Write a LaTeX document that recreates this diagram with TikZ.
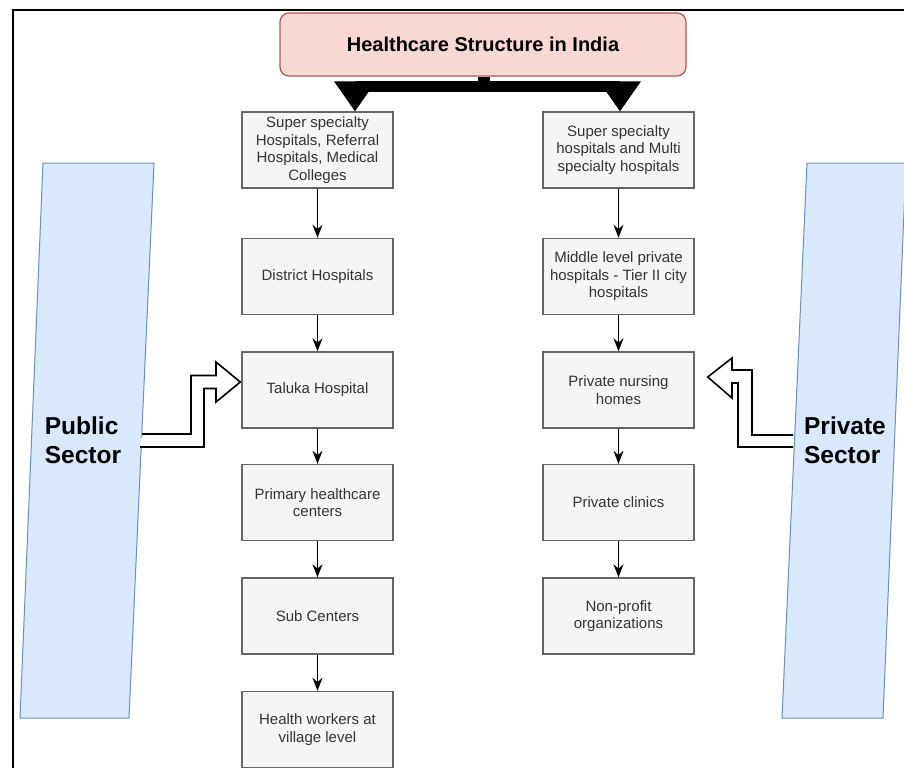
\documentclass[tikz,border=0pt]{standalone}
\usepackage{fontspec}
\setmainfont{Liberation Sans}
\usetikzlibrary{arrows.meta,calc}
\definecolor{boxfill}{HTML}{F5F5F5}
\definecolor{boxline}{HTML}{666666}
\definecolor{boxtext}{HTML}{333333}
\definecolor{titlefill}{HTML}{F8D7D5}
\definecolor{titleline}{HTML}{B85450}
\definecolor{sectorfill}{HTML}{DAE8FC}
\definecolor{sectorline}{HTML}{6C8EBF}
\begin{document}
\begin{tikzpicture}[x=1pt,y=-1pt,
  level/.style={draw=boxline, fill=boxfill, line width=1.4pt, text=boxtext,
    minimum width=151pt, minimum height=76pt, align=center, inner sep=2pt,
    font=\fontsize{15}{17.6}\selectfont},
  titlebox/.style={draw=titleline, fill=titlefill, line width=1.2pt, rounded corners=9pt,
    minimum width=406pt, minimum height=63pt, font=\fontsize{20}{24}\selectfont\bfseries},
  sectorlabel/.style={align=left, font=\fontsize{24.5}{29}\selectfont\bfseries},
  flow/.style={line width=1.5pt, -{Stealth[length=13pt,width=10pt]}},
  hollow/.style={draw=black, fill=white, line width=1.6pt, line join=miter}
]
\useasboundingbox (0,0) rectangle (904,768);

% frame
\draw[line width=2pt] (13,768) -- (13,10) -- (904,10);

% sector bands
\filldraw[fill=sectorfill, draw=sectorline, line width=1pt]
  (43,163) -- (154,163) -- (129,718) -- (20,718) -- cycle;
\filldraw[fill=sectorfill, draw=sectorline, line width=1pt]
  (807,163) -- (906,163) -- (883,718) -- (782,718) -- cycle;
\node[sectorlabel] (pub) at (83,440) {Public\\Sector};
\node[sectorlabel] (priv) at (845,440) {Private\\Sector};

% title
\node[titlebox] (title) at (483,44.5) {Healthcare Structure in India};

% public sector tiers
\node[level] (p1) at (317.5,150)   {Super specialty\\Hospitals, Referral\\Hospitals, Medical\\Colleges};
\node[level] (p2) at (317.5,276.5) {District Hospitals};
\node[level] (p3) at (317.5,390)   {Taluka Hospital};
\node[level] (p4) at (317.5,502.5) {Primary healthcare\\centers};
\node[level] (p5) at (317.5,616)   {Sub Centers};
\node[level] (p6) at (317.5,729.5) {Health workers at\\village level};

% private sector tiers
\node[level] (r1) at (618.5,150)   {Super specialty\\hospitals and Multi\\specialty hospitals};
\node[level] (r2) at (618.5,276.5) {Middle level private\\hospitals - Tier II city\\hospitals};
\node[level] (r3) at (618.5,390)   {Private nursing\\homes};
\node[level] (r4) at (618.5,502.5) {Private clinics};
\node[level] (r5) at (618.5,616)   {Non-profit\\organizations};

% tier connectors
\foreach \a/\b in {p1/p2,p2/p3,p3/p4,p4/p5,p5/p6,r1/r2,r2/r3,r3/r4,r4/r5}
  \draw[flow] (\a) -- (\b);

% split arrow from the title
\coordinate (stem) at ($(title.south)+(1,0)$);
\coordinate (lhead) at ($(p1.north)+(37.5,0)$);
\coordinate (rhead) at ($(r1.north)+(1.5,0)$);
\draw[line width=12pt] (stem) -- ++(0,12);
\draw[line width=11pt] ($(lhead)+(0,-25)$) -- ($(rhead)+(0,-25)$);
\fill ($(lhead)+(-21,-30)$) -- ($(lhead)+(21,-30)$) -- (lhead) -- cycle;
\fill ($(rhead)+(-21,-30)$) -- ($(rhead)+(21,-30)$) -- (rhead) -- cycle;

% public sector feed into taluka level
\path[hollow] (142,434) -- (191,434) -- (191,375.5) -- (216,375.5) -- (216,362)
  -- ($(p3.west)+(-1,-8)$) -- (216,402) -- (216,388.5) -- (204,388.5) -- (204,447) -- (140,447);
% private sector feed into nursing-home level
\path[hollow] (793,435) -- (752,435) -- (752,370) -- (732,370) -- (732,358)
  -- ($(r3.east)+(13,-13)$) -- (732,398) -- (732,383) -- (738,383) -- (738,447) -- (793,447);
\end{tikzpicture}
\end{document}
